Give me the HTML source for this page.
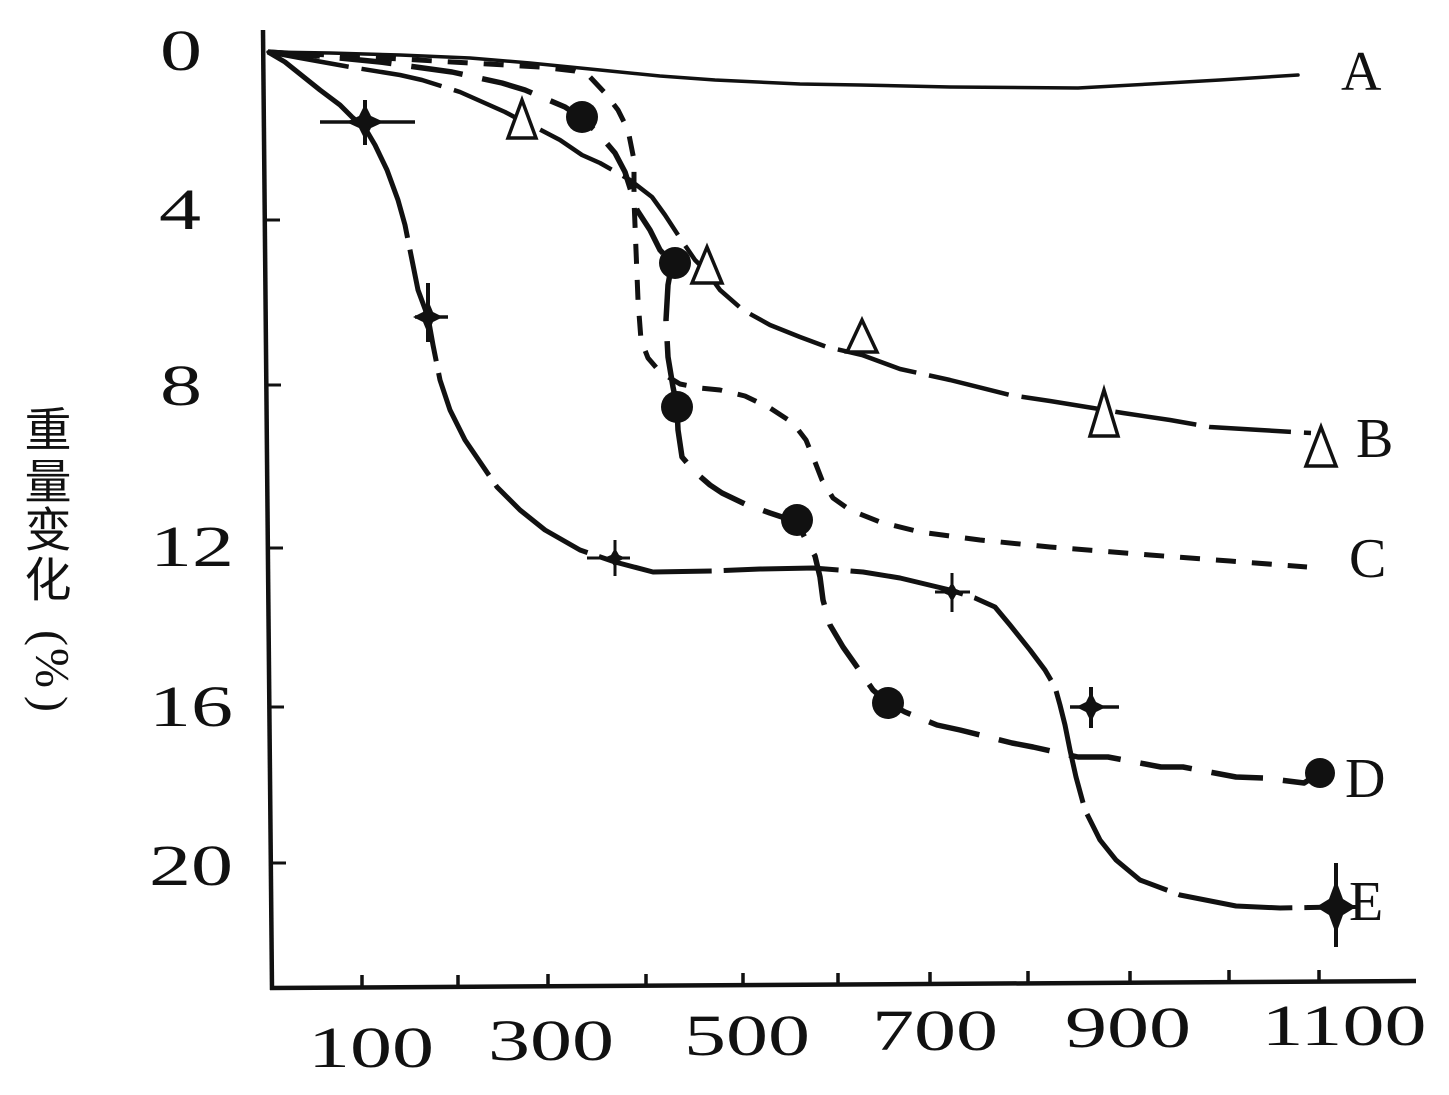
<!DOCTYPE html>
<html>
<head>
<meta charset="utf-8">
<style>
  html,body{margin:0;padding:0;background:#fff;}
  svg{display:block;}
  .num{font-family:"Liberation Serif",serif;font-size:58px;fill:#111;}
  .lab{font-family:"Liberation Serif",serif;font-size:56px;fill:#111;}
  .cjk{font-family:"Liberation Sans","Noto Sans CJK SC",sans-serif;font-size:47px;fill:#111;}
  .par{font-family:"Liberation Serif",serif;font-size:48px;fill:#111;}
</style>
</head>
<body>
<svg width="1449" height="1095" viewBox="0 0 1449 1095" xmlns="http://www.w3.org/2000/svg">
  <rect width="1449" height="1095" fill="#fff"/>

  <!-- axes -->
  <line x1="263" y1="30" x2="272" y2="990" stroke="#111" stroke-width="4.5"/>
  <line x1="270" y1="988" x2="1416" y2="981" stroke="#111" stroke-width="4.5"/>

  <!-- y ticks -->
  <g stroke="#111" stroke-width="3">
    <line x1="265" y1="220" x2="280" y2="220"/>
    <line x1="266" y1="385" x2="281" y2="385"/>
    <line x1="268" y1="548" x2="283" y2="548"/>
    <line x1="269" y1="707" x2="284" y2="707"/>
    <line x1="271" y1="863" x2="286" y2="863"/>
  </g>
  <!-- x ticks -->
  <g stroke="#111" stroke-width="3.5">
    <line x1="362" y1="987" x2="362" y2="975"/>
    <line x1="458" y1="987" x2="458" y2="975"/>
    <line x1="548" y1="986" x2="548" y2="974"/>
    <line x1="646" y1="986" x2="646" y2="974"/>
    <line x1="743" y1="985" x2="743" y2="973"/>
    <line x1="838" y1="985" x2="838" y2="973"/>
    <line x1="930" y1="984" x2="930" y2="972"/>
    <line x1="1028" y1="983" x2="1028" y2="971"/>
    <line x1="1130" y1="983" x2="1130" y2="971"/>
    <line x1="1229" y1="982" x2="1229" y2="970"/>
    <line x1="1319" y1="982" x2="1319" y2="970"/>
  </g>

  <!-- y labels -->
  <g class="num" text-anchor="middle">
    <text transform="translate(181,70) scale(1.45,1)">0</text>
    <text transform="translate(180,229) scale(1.45,1)">4</text>
    <text transform="translate(181,405) scale(1.45,1)">8</text>
    <text transform="translate(192,566) scale(1.45,1)">12</text>
    <text transform="translate(191,726) scale(1.45,1)">16</text>
    <text transform="translate(191,885) scale(1.45,1)">20</text>
  </g>
  <!-- x labels -->
  <g class="num" text-anchor="middle">
    <text transform="translate(371,1067) scale(1.45,1)">100</text>
    <text transform="translate(551,1060) scale(1.45,1)">300</text>
    <text transform="translate(747,1055) scale(1.45,1)">500</text>
    <text transform="translate(935,1050) scale(1.45,1)">700</text>
    <text transform="translate(1128,1047) scale(1.45,1)">900</text>
    <text transform="translate(1344,1045) scale(1.45,1)">1100</text>
  </g>

  <!-- y axis title -->
  <g class="cjk" text-anchor="middle">
    <text x="48" y="430" dominant-baseline="central">重</text>
    <text x="48" y="482" dominant-baseline="central">量</text>
    <text x="48" y="530" dominant-baseline="central">变</text>
    <text x="48" y="580" dominant-baseline="central">化</text>
  </g>
  <g class="par" text-anchor="middle">
    <text transform="translate(50,638) rotate(90)" dominant-baseline="central">(</text>
    <text transform="translate(52,668) rotate(90)" dominant-baseline="central">%</text>
    <text transform="translate(50,704) rotate(90)" dominant-baseline="central">)</text>
  </g>

  <!-- Curve A (solid) -->
  <polyline fill="none" stroke="#111" stroke-width="3.5" stroke-linejoin="round" stroke-linecap="round"
    points="268,52 330,53 400,55 470,58 530,63 600,70 660,76 715,80 800,84 860,85 950,87 1078,88 1150,84 1220,80 1298,75"/>

  <!-- Curve C (short dashes) -->
  <polyline fill="none" stroke="#111" stroke-width="5" stroke-linejoin="round" stroke-dasharray="20 16"
    points="268,52 330,55 400,59 470,63 540,67 575,71 590,77 605,93 618,110 628,130 634,160 634,200 636,250 638,300 641,340 648,358 660,372 680,384 700,388 720,390 745,396 770,408 793,423 806,440 815,462 822,480 833,498 850,510 880,522 920,532 980,540 1050,547 1150,555 1230,561 1307,567"/>

  <!-- Curve B (long dashes) -->
  <polyline fill="none" stroke="#111" stroke-width="4.5" stroke-linejoin="round" stroke-dasharray="82 13"
    points="268,52 300,58 350,67 400,75 422,80 460,92 505,112 520,120 535,127 560,140 582,155 600,163 630,180 652,197 665,215 680,238 695,260 707,272 720,290 743,310 770,325 800,337 827,347 862,355 900,369 950,380 1010,395 1050,401 1093,408 1123,413 1170,420 1210,427 1260,430 1311,433"/>

  <!-- Curve D (medium dashes) -->
  <polyline fill="none" stroke="#111" stroke-width="5.5" stroke-linejoin="round" stroke-dasharray="52 20"
    points="268,52 320,56 380,62 452,72 502,83 525,90 565,107 580,117 598,133 615,153 625,172 637,210 650,230 660,250 672,263 668,285 666,320 668,357 673,387 677,407 678,430 682,457 695,472 710,485 722,493 745,504 770,513 797,522 806,540 815,556 820,577 823,600 830,625 843,647 855,664 873,690 888,703 905,712 937,725 960,730 1012,743 1033,747 1078,757 1108,757 1161,767 1183,767 1236,777 1264,778 1304,783 1320,773"/>

  <!-- Curve E (long dashes) -->
  <polyline fill="none" stroke="#111" stroke-width="5" stroke-linejoin="round" stroke-dasharray="115 12"
    points="268,52 285,62 300,74 320,90 340,105 352,117 365,128 375,145 387,170 398,200 405,225 411,255 418,290 428,317 433,345 440,380 450,410 465,440 480,462 497,487 520,510 545,530 580,550 615,562 653,572 713,571 760,569 813,568 863,572 900,578 950,590 975,598 995,607 1010,625 1030,650 1045,670 1055,687 1060,705 1065,725 1070,750 1076,777 1085,810 1100,840 1116,860 1140,880 1180,895 1236,906 1280,908 1336,907"/>

  <!-- D markers: filled circles -->
  <g fill="#111">
    <circle cx="582" cy="117" r="16"/>
    <circle cx="675" cy="263" r="16"/>
    <circle cx="677" cy="407" r="16"/>
    <circle cx="797" cy="520" r="16"/>
    <circle cx="888" cy="703" r="16"/>
    <circle cx="1320" cy="773" r="15"/>
  </g>

  <!-- B markers: open triangles -->
  <g fill="#fff" stroke="#111" stroke-width="3.5" stroke-linejoin="miter">
    <polygon points="522,100 508,138 536,138"/>
    <polygon points="707,247 692,283 722,283"/>
    <polygon points="862,320 847,352 877,352"/>
    <polygon points="1104,390 1090,436 1118,436"/>
    <polygon points="1321,427 1306,466 1336,466"/>
  </g>

  <!-- E markers: crosses / stars -->
  <g fill="#111" stroke="#111">
    <line x1="320" y1="122" x2="415" y2="122" stroke-width="3.5"/>
    <line x1="365" y1="100" x2="365" y2="145" stroke-width="4"/>
    <polygon stroke="none" points="365,104 371,116 384,122 371,128 365,140 359,128 346,122 359,116"/>

    <line x1="428" y1="283" x2="428" y2="342" stroke-width="4"/>
    <line x1="415" y1="317" x2="448" y2="317" stroke-width="3.5"/>
    <polygon stroke="none" points="428,300 433,312 443,317 433,322 428,334 423,322 413,317 423,312"/>

    <line x1="587" y1="558" x2="630" y2="558" stroke-width="3"/>
    <line x1="615" y1="540" x2="615" y2="576" stroke-width="3"/>
    <polygon stroke="none" points="615,548 619,555 626,558 619,561 615,568 611,561 604,558 611,555"/>

    <line x1="935" y1="592" x2="970" y2="592" stroke-width="3"/>
    <line x1="952" y1="573" x2="952" y2="612" stroke-width="3"/>
    <polygon stroke="none" points="952,582 956,589 963,592 956,595 952,602 948,595 941,592 948,589"/>

    <line x1="1070" y1="707" x2="1119" y2="707" stroke-width="3.5"/>
    <line x1="1091" y1="687" x2="1091" y2="728" stroke-width="4"/>
    <polygon stroke="none" points="1091,692 1096,702 1106,707 1096,712 1091,722 1086,712 1076,707 1086,702"/>

    <line x1="1307" y1="907" x2="1360" y2="907" stroke-width="4"/>
    <line x1="1336" y1="863" x2="1336" y2="947" stroke-width="4"/>
    <polygon stroke="none" points="1336,880 1343,899 1356,907 1343,915 1336,934 1329,915 1316,907 1329,899"/>
  </g>

  <!-- series labels -->
  <g class="lab">
    <text x="1341" y="90">A</text>
    <text x="1356" y="457">B</text>
    <text x="1349" y="577">C</text>
    <text x="1345" y="797">D</text>
    <text x="1349" y="920">E</text>
  </g>
</svg>
</body>
</html>
